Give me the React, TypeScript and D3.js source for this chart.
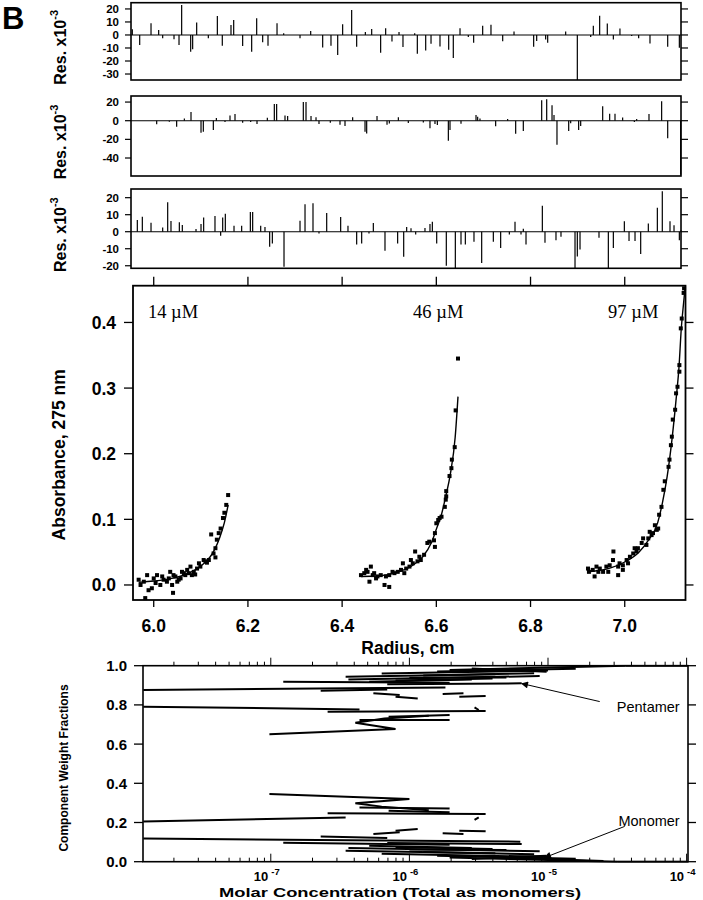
import React from "react";
import * as d3 from "d3";

// ---------- DATA ----------
// Residual panels: [position along radius axis (0-100 % of panel), residual x10^-3]
const res1: [number, number][] = [[0.24,4.4],[1.58,-7.7],[3.64,9],[5.03,3.8],[5.76,-2.6],[7.82,-3.3],[8.73,-7.7],[9.21,23],[10.85,-12.8],[11.21,-11],[11.94,9.5],[14.06,-2.6],[15.7,14.6],[16.6,-8.2],[18.18,7.7],[18.67,11.5],[20.3,-8.5],[21.94,-12.8],[22.85,12.8],[23.94,-5.6],[24.91,-8.2],[26.55,9],[27.76,1.3],[30.73,-2.6],[32.67,3.1],[34.85,-9.7],[36.36,-8.2],[37.58,-15.4],[38.48,8.2],[40.12,19.2],[41.03,-9],[42.61,2.3],[43.76,4.6],[45.39,-13.6],[46.3,5.1],[47.45,-5.1],[48.73,2.3],[49.45,-9.2],[51.58,1.3],[52.06,-14.5],[53.58,-11.9],[54.55,-6.8],[56.18,-8.8],[57.76,-11.4],[58.6,-17.7],[59.82,5.2],[61.33,-1.6],[62.3,-6],[63.94,7],[65.45,7.8],[67.58,-4.9],[69.64,2.6],[73.21,-9.1],[73.76,-4.7],[75.39,-3.4],[75.76,-6],[79.03,2.6],[81.15,-34.6],[83.58,-1.6],[84.06,7],[85.21,14.8],[86.6,8.8],[87.7,-3.4],[88.9,4.9],[91.03,-0.8],[92.3,-2.6],[94.36,-6.5],[97.58,-9.1],[99.7,-9.9]];
const res2: [number, number][] = [[4.67,-3.9],[6.97,-1],[8.3,-6.4],[9.7,2.5],[10.91,9.3],[12.73,-12.9],[13.15,-11.8],[14.97,-10],[15.52,2.9],[17.09,-1.4],[18,5.7],[18.91,7.1],[20.3,-2.1],[21.76,-1.4],[22.91,-3.6],[24.79,3.2],[26.06,17.9],[26.48,17.9],[28,5.7],[28.48,5],[31.33,20],[31.82,20],[32.73,5],[33.64,3.6],[34.18,-3.6],[36.24,-2.1],[38,-4.3],[38.91,-5.7],[40.3,3.6],[42.55,-11.8],[42.85,-13.6],[44.73,5],[46.55,-4.3],[46.97,-2.9],[48.61,3.6],[50.42,-2.5],[53.15,-1.8],[54.36,-8.1],[55.27,-3.5],[55.7,-4.6],[57.7,-21.6],[58,-9.9],[60,-3.2],[62.73,6],[63.03,4.2],[63.45,2.5],[66.3,-6],[68.48,1.8],[69.94,-14.1],[71.33,-11],[74.67,21.9],[75.58,23],[76.55,16.6],[76.91,6],[77.45,-25.8],[79.58,-11],[79.94,-2.8],[81.39,-9.9],[81.76,-5.7],[85.76,15.5],[87.03,7.4],[88,7.4],[89.39,3.5],[91.52,-1.4],[91.94,1.8],[94.18,7.1],[96.48,20.8],[97.58,-18.7],[99.94,-58]];
const res3: [number, number][] = [[1.15,6.9],[2.06,8.8],[3.64,5.3],[5.76,2.5],[6.67,17.3],[7.27,6.3],[8.79,5.5],[9.33,3.9],[11.82,1.6],[12.73,4.5],[13.21,8.4],[15.27,9.2],[16.3,-2.4],[16.67,8.4],[17.15,10.6],[18.73,3.5],[20.12,3.5],[21.7,11.6],[22.12,11.6],[23.58,3.5],[24.36,2.7],[25.21,-8.8],[25.7,-6.9],[27.82,-20.6],[30.73,6.5],[31.64,16.1],[33.09,16.7],[34.18,-1],[35.58,11],[38.12,8.6],[39.45,3.5],[41.03,-7.5],[41.94,-6.9],[43.27,-1],[44.06,5.1],[46.18,-11.2],[48.48,-6.9],[49.58,-14.7],[50.12,2.7],[50.91,2],[51.76,-1.6],[53.45,2.2],[54.36,4.6],[54.79,5.9],[55.58,-6.9],[57.33,-20],[58.97,-21.4],[60,-7.5],[60.79,-7.5],[62.36,-5.9],[63.76,-18.4],[65.88,-5.9],[67.21,-9.5],[68.79,-1.6],[69.82,5.9],[70.91,-1.6],[71.33,1.8],[71.82,-7.5],[74.79,15.2],[75.27,-6.5],[77.27,-5],[78.18,-3],[80.73,-21.5],[81.15,-14.5],[81.64,-10.5],[85.09,-3.6],[86.79,-21.5],[87.7,-9.5],[89.7,6.1],[90.55,-5.5],[91.64,-5.5],[92.67,-13.1],[94.06,4.8],[95.7,14.1],[96.6,23.8],[98,6.1],[98.73,3.8],[99.7,-5],[100,0.8]];
const res1Ticks = [20, 10, 0, -10, -20, -30];
const res2Ticks = [20, 0, -20, -40];
const res3Ticks = [20, 10, 0, -10, -20];

// Main panel: [radius cm, absorbance]
const pts14: [number, number][] = [[6.158,0.137],[6.154,0.122],[6.147,0.102],[6.142,0.086],[6.138,0.079],[6.122,0.077],[6.134,0.069],[6.131,0.056],[6.127,0.048],[6.131,0.042],[6.117,0.038],[6.110,0.036],[6.099,0.028],[6.092,0.025],[6.085,0.020],[6.078,0.028],[6.081,0.015],[6.071,0.023],[6.067,0.015],[6.060,0.020],[6.057,0.010],[6.050,0.005],[6.042,0.015],[6.035,0.020],[6.039,0.0],[6.041,-0.012],[6.028,0.005],[6.021,0.008],[6.007,0.015],[6.014,0.0],[6.0,0.010],[5.996,-0.005],[5.986,0.015],[5.982,-0.020],[5.979,0.005],[5.972,0.0],[5.968,0.008],[5.989,-0.008],[6.004,0.003],[6.018,0.013],[6.046,0.013],[6.074,0.018],[6.096,0.033],[6.106,0.038],[6.053,0.008],[6.032,0.010],[6.064,0.018],[6.088,0.016],[6.113,0.034],[6.150,0.110]];
const pts46: [number, number][] = [[6.646,0.345],[6.641,0.266],[6.639,0.210],[6.633,0.191],[6.628,0.166],[6.621,0.143],[6.620,0.130],[6.618,0.119],[6.611,0.104],[6.604,0.099],[6.600,0.094],[6.597,0.079],[6.595,0.068],[6.597,0.058],[6.581,0.064],[6.574,0.046],[6.567,0.038],[6.560,0.036],[6.555,0.051],[6.550,0.033],[6.543,0.028],[6.536,0.025],[6.529,0.033],[6.525,0.023],[6.518,0.020],[6.511,0.018],[6.500,0.015],[6.500,-0.003],[6.490,0.0],[6.493,0.013],[6.482,0.015],[6.475,0.013],[6.472,0.010],[6.465,0.015],[6.461,0.028],[6.458,0.005],[6.454,0.020],[6.447,0.018],[6.440,0.015],[6.451,0.023],[6.468,0.018],[6.507,0.020],[6.532,0.018],[6.546,0.038],[6.564,0.043],[6.585,0.066],[6.607,0.102],[6.632,0.178],[6.621,0.135]];
const pts97: [number, number][] = [[7.126,0.452],[7.125,0.445],[7.121,0.406],[7.119,0.391],[7.116,0.335],[7.116,0.325],[7.112,0.302],[7.109,0.292],[7.107,0.267],[7.102,0.252],[7.100,0.226],[7.098,0.213],[7.095,0.191],[7.093,0.180],[7.085,0.158],[7.082,0.145],[7.078,0.119],[7.073,0.107],[7.071,0.086],[7.064,0.091],[7.060,0.079],[7.057,0.076],[7.050,0.071],[7.039,0.071],[7.046,0.061],[7.036,0.064],[7.028,0.056],[7.021,0.056],[7.018,0.048],[7.011,0.043],[7.004,0.038],[7.007,0.033],[6.996,0.030],[6.989,0.033],[6.986,0.028],[6.976,0.051],[6.975,0.038],[6.968,0.030],[6.961,0.028],[6.954,0.020],[6.947,0.025],[6.940,0.028],[6.932,0.023],[6.936,0.013],[6.924,0.020],[6.922,0.025],[6.986,0.015],[6.996,0.023],[6.944,0.020],[6.965,0.020],[7.025,0.051],[7.053,0.081],[7.068,0.084]];
const fit14: [number, number][] = [[5.968,0.004],[6.0,0.006],[6.03,0.009],[6.06,0.014],[6.08,0.020],[6.10,0.029],[6.11,0.035],[6.12,0.043],[6.13,0.055],[6.14,0.072],[6.15,0.095],[6.158,0.122]];
const fit46: [number, number][] = [[6.44,0.013],[6.48,0.014],[6.52,0.020],[6.55,0.030],[6.57,0.042],[6.59,0.065],[6.60,0.085],[6.61,0.105],[6.62,0.135],[6.63,0.170],[6.64,0.225],[6.646,0.287]];
const fit97: [number, number][] = [[6.922,0.020],[6.97,0.026],[7.0,0.035],[7.03,0.050],[7.05,0.068],[7.07,0.095],[7.08,0.125],[7.09,0.165],[7.10,0.220],[7.11,0.290],[7.115,0.330],[7.12,0.390],[7.125,0.430],[7.128,0.452]];
const concLabels = [{ text: "14 \u00b5M", r: 6.041 }, { text: "46 \u00b5M", r: 6.604 }, { text: "97 \u00b5M", r: 7.018 }];
const radiusTicks = [6.0, 6.2, 6.4, 6.6, 6.8, 7.0];
const absTicks = [0, 0.1, 0.2, 0.3, 0.4];

// Bottom panel: segments of [log10 molar conc, weight fraction]
const pentamerSegs: [number, number][][] = [
  [[-4.44,1.0],[-3.99,1.0]],
  [[-5.71,0.978],[-4.44,1.0]],
  [[-5.55,0.986],[-5.01,0.969]],
  [[-5.8,0.97],[-4.8,0.985]],
  [[-6.2,0.96],[-5.0,0.975]],
  [[-5.9,0.95],[-5.1,0.962]],
  [[-6.46,0.944],[-5.38,0.957]],
  [[-6.0,0.938],[-5.3,0.940]],
  [[-6.44,0.930],[-5.06,0.947]],
  [[-6.1,0.925],[-5.4,0.935]],
  [[-6.29,0.918],[-5.55,0.930]],
  [[-6.91,0.918],[-5.71,0.913]],
  [[-6.16,0.905],[-5.19,0.910]],
  [[-7.92,0.876],[-5.74,0.889]],
  [[-6.64,0.872],[-6.16,0.879]],
  [[-6.26,0.859],[-6.07,0.850]],
  [[-6.10,0.842],[-5.94,0.833]],
  [[-5.76,0.855],[-5.61,0.859]],
  [[-5.64,0.842],[-5.45,0.845]],
  [[-7.92,0.791],[-6.36,0.777]],
  [[-6.59,0.765],[-5.45,0.769]],
  [[-5.53,0.787],[-5.50,0.774]],
  [[-7.01,0.650],[-6.10,0.677],[-6.39,0.709],[-6.18,0.731],[-5.86,0.745]],
  [[-6.36,0.723],[-5.71,0.723]],
  [[-6.15,0.740],[-5.71,0.748]],
];
const monomerSegs: [number, number][][] = [
  [[-4.50,0.0],[-3.99,0.0]],
  [[-5.71,0.022],[-4.50,0.0]],
  [[-5.3,0.020],[-4.6,0.004]],
  [[-5.55,0.014],[-5.01,0.031]],
  [[-5.8,0.030],[-4.8,0.015]],
  [[-6.2,0.040],[-5.0,0.025]],
  [[-5.9,0.050],[-5.1,0.038]],
  [[-6.46,0.056],[-5.38,0.043]],
  [[-6.0,0.062],[-5.3,0.060]],
  [[-6.44,0.070],[-5.06,0.053]],
  [[-6.1,0.075],[-5.4,0.065]],
  [[-6.29,0.082],[-5.55,0.070]],
  [[-6.91,0.097],[-5.71,0.087]],
  [[-6.16,0.095],[-5.19,0.090]],
  [[-7.92,0.118],[-5.20,0.102]],
  [[-6.64,0.128],[-6.16,0.121]],
  [[-6.26,0.141],[-6.07,0.150]],
  [[-6.10,0.158],[-5.94,0.167]],
  [[-5.76,0.145],[-5.61,0.141]],
  [[-5.64,0.158],[-5.45,0.155]],
  [[-7.92,0.205],[-6.46,0.226]],
  [[-6.59,0.247],[-5.45,0.243]],
  [[-5.53,0.213],[-5.50,0.226]],
  [[-7.01,0.345],[-6.00,0.320],[-6.39,0.298],[-6.20,0.281],[-5.86,0.262]],
  [[-6.36,0.277],[-5.71,0.272]],
  [[-6.15,0.260],[-5.71,0.252]],
];
const fracTicks = [0, 0.2, 0.4, 0.6, 0.8, 1.0];
const decadeTicks = [-7, -6, -5, -4];
const annotations = [
  { text: "Pentamer", textAt: [-4.05, 0.79], from: [-4.627, 0.817], to: [-5.19, 0.909] },
  { text: "Monomer", textAt: [-4.05, 0.209], from: [-4.447, 0.18], to: [-5.024, 0.021] },
];

// ---------- LAYOUT ----------
const SANS = "'Liberation Sans', Arial, Helvetica, sans-serif";
const SERIF = "'Liberation Serif', 'Times New Roman', serif";
const resX = d3.scaleLinear().domain([0, 100]).range([131, 681]);
const panels = [
  { data: res1, ticks: res1Ticks, domain: [-34.6, 24.8], top: 2.7, bottom: 80 },
  { data: res2, ticks: res2Ticks, domain: [-59.3, 26.5], top: 96, bottom: 176 },
  { data: res3, ticks: res3Ticks, domain: [-21.5, 25.1], top: 189, bottom: 268.3 },
];
const mx = d3.scaleLinear().domain([5.956, 7.129]).range([133, 685.5]);
const my = d3.scaleLinear().domain([-0.0229, 0.456]).range([600, 285.7]);
const bx = d3.scaleLog().domain([Math.pow(10, -7.922), Math.pow(10, -3.99)]).range([143, 688]);
const by = d3.scaleLinear().domain([0, 1]).range([861.7, 665.7]);
const bX = (lc: number) => bx(Math.pow(10, lc));

function ResPanel({ p }: { p: typeof panels[number] }) {
  const y = d3.scaleLinear().domain(p.domain).range([p.bottom, p.top]);
  const x0 = resX.range()[0], x1 = resX.range()[1];
  const cy = (p.top + p.bottom) / 2 + 6;
  return (
    <g>
      <line x1={x0} x2={x1} y1={y(0)} y2={y(0)} stroke="#000" strokeWidth={1.1} />
      {p.data.map((d, i) => {
        const v = Math.max(p.domain[0], Math.min(p.domain[1], d[1]));
        return <line key={i} x1={resX(d[0])} x2={resX(d[0])} y1={y(0)} y2={y(v)} stroke="#000" strokeWidth={1.2} />;
      })}
      <rect x={x0} y={p.top} width={x1 - x0} height={p.bottom - p.top} fill="none" stroke="#000" strokeWidth={1.6} />
      {p.ticks.map((t) => (
        <g key={t}>
          <line x1={x0 - 6} x2={x0} y1={y(t)} y2={y(t)} stroke="#000" strokeWidth={1.2} />
          <line x1={x1} x2={x1 + 7} y1={y(t)} y2={y(t)} stroke="#000" strokeWidth={1.2} />
          <text x={x0 - 12} y={y(t) + 4} textAnchor="end" fontSize={11.5} fontWeight="bold" fontFamily={SANS}>{t}</text>
        </g>
      ))}
      <text transform={`translate(66,${cy}) rotate(-90)`} textAnchor="middle" fontSize={16} fontWeight="bold" fontFamily={SANS}>
        Res. x10<tspan dy={-8} fontSize={11}>-3</tspan>
      </text>
    </g>
  );
}

export default function App() {
  const line = d3.line<[number, number]>().x((d) => mx(d[0])).y((d) => my(d[1])).curve(d3.curveMonotoneX);
  const segLine = d3.line<[number, number]>().x((d) => bX(d[0])).y((d) => by(d[1]));
  const [m0, m1] = mx.range();
  const [mb, mt] = my.range();
  const [b0, b1] = bx.range();
  const [bb, bt] = by.range();
  const minor: { v: number; major: boolean }[] = [];
  for (let d = -8; d <= -4; d++) {
    for (let k = 1; k <= 9; k++) {
      const v = k * Math.pow(10, d);
      if (v >= bx.domain()[0] && v <= bx.domain()[1] * 1.001) minor.push({ v, major: k === 1 });
    }
  }
  return (
    <svg width={703} height={900} style={{ position: "absolute", left: 0, top: 0, background: "#fff" }} xmlns="http://www.w3.org/2000/svg">
      <defs>
        <marker id="ah" viewBox="0 0 10 10" refX={9} refY={5} markerWidth={9} markerHeight={7} orient="auto" markerUnits="userSpaceOnUse">
          <path d="M0,0 L10,5 L0,10 z" fill="#000" />
        </marker>
      </defs>
      <rect x={0} y={0} width={703} height={900} fill="#fff" />
      <text x={2} y={29} fontSize={31} fontWeight="bold" fontFamily={SANS}>B</text>

      {panels.map((p, i) => <ResPanel key={i} p={p} />)}

      {/* Main panel */}
      <g>
        <path d={line(fit14) || ""} fill="none" stroke="#000" strokeWidth={1.4} />
        <path d={line(fit46) || ""} fill="none" stroke="#000" strokeWidth={1.4} />
        <path d={line(fit97) || ""} fill="none" stroke="#000" strokeWidth={1.4} />
        {[pts14, pts46, pts97].map((set, si) =>
          set.map((d, i) => <rect key={si + "-" + i} x={mx(d[0]) - 2} y={my(d[1]) - 2} width={4} height={4} fill="#000" />)
        )}
        <rect x={m0} y={mt} width={m1 - m0} height={mb - mt} fill="none" stroke="#000" strokeWidth={1.8} />
        {radiusTicks.map((t) => (
          <g key={t}>
            <line x1={mx(t)} x2={mx(t)} y1={mt} y2={mt - 9} stroke="#000" strokeWidth={1.3} />
            <line x1={mx(t)} x2={mx(t)} y1={mb} y2={mb + 7} stroke="#000" strokeWidth={1.3} />
            <text x={mx(t)} y={632} textAnchor="middle" fontSize={17.5} fontWeight="bold" fontFamily={SANS}>{t.toFixed(1)}</text>
          </g>
        ))}
        {absTicks.map((t) => (
          <g key={t}>
            <line x1={m0 - 9} x2={m0} y1={my(t)} y2={my(t)} stroke="#000" strokeWidth={1.3} />
            <line x1={m1} x2={m1 + 8} y1={my(t)} y2={my(t)} stroke="#000" strokeWidth={1.3} />
            <text x={116} y={my(t) + 6.5} textAnchor="end" fontSize={17.5} fontWeight="bold" fontFamily={SANS}>{t.toFixed(1)}</text>
          </g>
        ))}
        {concLabels.map((c) => (
          <text key={c.text} x={mx(c.r)} y={318} textAnchor="middle" fontSize={18.5} fontFamily={SERIF}>{c.text}</text>
        ))}
        <text x={408} y={654} textAnchor="middle" fontSize={17.5} fontWeight="bold" fontFamily={SANS}>Radius, cm</text>
        <text transform={`translate(65,${(mt + mb) / 2 + 12}) rotate(-90)`} textAnchor="middle" fontSize={17.5} fontWeight="bold" fontFamily={SANS}>Absorbance, 275 nm</text>
      </g>

      {/* Bottom panel */}
      <g>
        <defs>
          <clipPath id="bclip"><rect x={b0} y={bt - 1} width={b1 - b0} height={bb - bt + 2} /></clipPath>
        </defs>
        <g clipPath="url(#bclip)">
          {pentamerSegs.map((s, i) => <path key={"p" + i} d={segLine(s) || ""} fill="none" stroke="#000" strokeWidth={2} />)}
          {monomerSegs.map((s, i) => <path key={"m" + i} d={segLine(s) || ""} fill="none" stroke="#000" strokeWidth={2} />)}
        </g>
        <rect x={b0} y={bt} width={b1 - b0} height={bb - bt} fill="none" stroke="#000" strokeWidth={1.6} />
        {minor.map((m, i) => (
          <g key={i}>
            <line x1={bx(m.v)} x2={bx(m.v)} y1={bt} y2={bt - (m.major ? 8 : 4)} stroke="#000" strokeWidth={1} />
            <line x1={bx(m.v)} x2={bx(m.v)} y1={bb} y2={bb - (m.major ? 8 : 4)} stroke="#000" strokeWidth={1} />
          </g>
        ))}
        {fracTicks.map((t) => (
          <g key={t}>
            <line x1={b0 - 9} x2={b0} y1={by(t)} y2={by(t)} stroke="#000" strokeWidth={1.3} />
            <line x1={b1} x2={b1 + 8} y1={by(t)} y2={by(t)} stroke="#000" strokeWidth={1.3} />
            <text x={127} y={by(t) + 5.5} textAnchor="end" fontSize={15} fontWeight="bold" fontFamily={SANS}>{t.toFixed(1)}</text>
          </g>
        ))}
        {decadeTicks.map((d) => (
          <text key={d} x={bX(d) - 4} y={881} textAnchor="middle" fontSize={13} fontWeight="bold" fontFamily={SANS}>
            10<tspan dx={3} dy={-6} fontSize={9.5}>{d}</tspan>
          </text>
        ))}
        {annotations.map((a) => (
          <g key={a.text}>
            <line x1={bX(a.from[0])} y1={by(a.from[1])} x2={bX(a.to[0])} y2={by(a.to[1])} stroke="#000" strokeWidth={1} markerEnd="url(#ah)" />
            <text x={bX(a.textAt[0])} y={by(a.textAt[1]) + 5} textAnchor="end" fontSize={14.5} fontFamily={SANS}>{a.text}</text>
          </g>
        ))}
        <text x={400} y={897} textAnchor="middle" fontSize={13} fontWeight="bold" fontFamily={SANS} textLength={362} lengthAdjust="spacingAndGlyphs">Molar Concentration (Total as monomers)</text>
        <text transform={`translate(68,768) rotate(-90)`} textAnchor="middle" fontSize={12} fontWeight="bold" fontFamily={SANS}>Component Weight Fractions</text>
      </g>
    </svg>
  );
}
